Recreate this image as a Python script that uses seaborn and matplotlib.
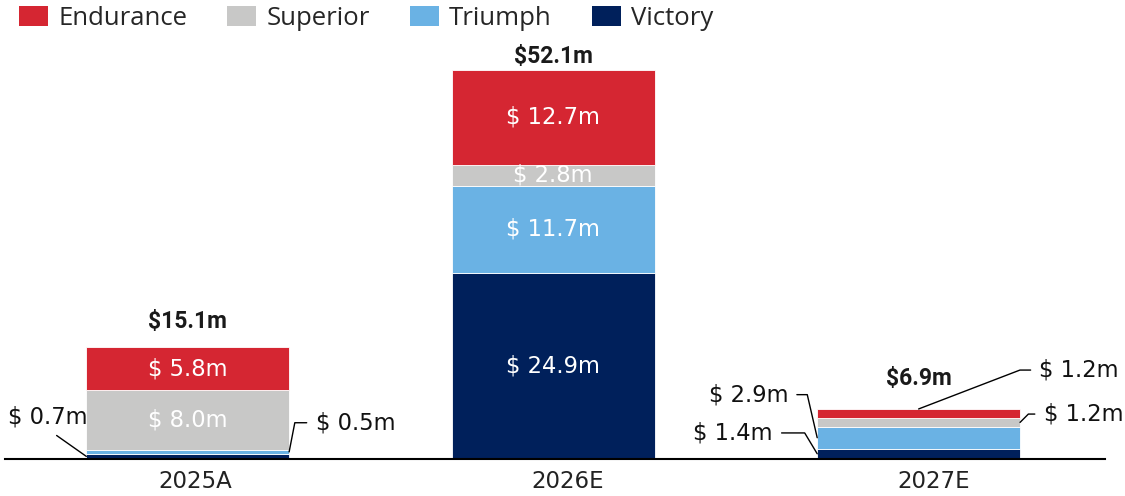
import numpy as np
import pandas as pd
import matplotlib
matplotlib.use("Agg")
import matplotlib.pyplot as plt
from matplotlib.patches import Patch
from matplotlib.transforms import ScaledTranslation
import seaborn as sns

# data
years = ["2025A", "2026E", "2027E"]
series = ["Victory", "Triumph", "Superior", "Endurance"]
victory = [0.7, 24.9, 1.4]
triumph = [0.5, 11.7, 2.9]
superior = [8.0, 2.8, 1.2]
endurance = [5.8, 12.7, 1.2]
totals = [15.1, 52.1, 6.9]
legend_order = ["Endurance", "Superior", "Triumph", "Victory"]

colors = {
    "Victory": "#00205B",
    "Triumph": "#6AB2E4",
    "Superior": "#C8C8C7",
    "Endurance": "#D52632",
}

df = pd.DataFrame({
    "year": years,
    "Victory": victory,
    "Triumph": triumph,
    "Superior": superior,
    "Endurance": endurance,
})

# segments that get an outside label: (year index, series) -> layout
callouts = {
    (0, "Victory"): dict(side="left", off=(-28, 28), conn="arc3", relpos=(0.5, 0)),
    (0, "Triumph"): dict(side="right", off=(19, 21), conn="angle,angleA=0,angleB=79,rad=0", relpos=(0, 0.5)),
    (2, "Victory"): dict(side="left", off=(-32, 15), conn="angle,angleA=0,angleB=121,rad=0", relpos=(1, 0.5)),
    (2, "Triumph"): dict(side="left", off=(-21, 31), conn="angle,angleA=0,angleB=103,rad=0", relpos=(1, 0.5)),
    (2, "Superior"): dict(side="right", off=(17, 6), conn="angle,angleA=0,angleB=45,rad=0", relpos=(0, 0.5)),
    (2, "Endurance"): dict(side="top", off=(87, 28), conn="angle,angleA=0,angleB=21,rad=0", relpos=(0, 0.5)),
}
# gap (points) between bar top and its total label
total_gap = [10, 1.5, 13.5]

sns.set_theme(style="white")
plt.rcParams["font.family"] = ["DejaVu Sans"]

fig = plt.figure(figsize=(11.25, 4.96), dpi=100)
ax = fig.add_axes([5 / 1125, 37 / 496, 1100 / 1125, 419 / 496])

lbl_size = 16.3
bar_w = 0.555
bottom = np.zeros(len(years))
for s in series:
    sns.barplot(data=df, x="year", y=s, color=colors[s], bottom=bottom,
                width=bar_w, saturation=1, errorbar=None,
                edgecolor="white", linewidth=0.6, ax=ax)

    for i, v in enumerate(df[s]):
        txt = f"$ {v:.1f}m"
        key = (i, s)
        if key not in callouts:
            ax.text(i, bottom[i] + v / 2, txt, ha="center", va="center",
                    color="white", fontsize=lbl_size)
            continue
        c = callouts[key]
        if c["side"] == "left":
            xy = (i - bar_w / 2, bottom[i] + v / 2)
            ha = "right" if c["relpos"][0] == 1 else "center"
        elif c["side"] == "right":
            xy = (i + bar_w / 2, bottom[i] + v / 2)
            ha = "left"
        else:
            xy = (i, bottom[i] + v)
            ha = "left"
        ax.annotate(txt, xy=xy, xytext=c["off"], textcoords="offset points",
                    ha=ha, va="center", fontsize=lbl_size, color="#111111",
                    arrowprops=dict(arrowstyle="-", color="black", lw=1,
                                    connectionstyle=c["conn"], relpos=c["relpos"],
                                    shrinkA=4, shrinkB=0))
    bottom += df[s].values

# totals
for i, t in enumerate(totals):
    ax.annotate(f"${t:.1f}m", xy=(i, bottom[i]), xytext=(0, total_gap[i]), textcoords="offset points",
                ha="center", va="bottom", fontsize=16.5, fontweight="bold",
                family="Roboto", color="#1a1a1a")

ax.set_xlim(-0.5, 2.51)
ax.set_ylim(0, 56.1)
ax.set_xlabel("")
ax.set_ylabel("")
ax.set_yticks([])
sns.despine(ax=ax, left=True)
ax.spines["bottom"].set_color("black")
ax.spines["bottom"].set_linewidth(1.5)
ax.tick_params(axis="x", length=0, pad=8, labelsize=16.5, labelcolor="#222222")

# the year labels sit a little right of the bar centres
for lab, dx in zip(ax.get_xticklabels(), [8, 15, 15]):
    lab.set_transform(lab.get_transform() + ScaledTranslation(dx / 100, 0, fig.dpi_scale_trans))

handles = [Patch(facecolor=colors[s], edgecolor="none") for s in legend_order]
fig.legend(handles, legend_order, loc="upper left", bbox_to_anchor=(19 / 1125, 1 - 6 / 496),
           ncol=4, frameon=False, prop={"family": "Open Sans", "size": 18.5},
           handlelength=1.13, handleheight=0.82, handletextpad=0.4,
           columnspacing=1.55, borderpad=0, borderaxespad=0)

fig.savefig("out.png", dpi=100)
